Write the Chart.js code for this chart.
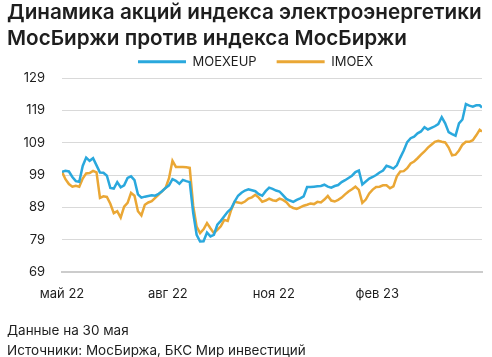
<!DOCTYPE html>
<html><head><meta charset="utf-8">
<script src="https://cdn.jsdelivr.net/npm/chart.js@4"></script>
<style>html,body{margin:0;padding:0;background:#fff}#wrap{width:492px;height:357px}</style>
</head><body><div id="wrap"><canvas id="c" width="492" height="357"></canvas></div>
<script>
// Days since 30 May 2022 (every third calendar day, last point = 30 May 2023)
const days = Array.from({length:122}, (_, i) => i * 3).concat([365]);

const moexeup = [
100,100.3,100.1,98.4,97.1,96.9,101.8,104.4,103.4,104.2,102,99.8,99.7,98.8,95,94.8,96.8,95.2,95.8,98.1,
98.6,97.4,93,92,92.3,92.5,92.7,92.6,93.2,94,95,95.8,97.7,97.2,96.3,97.5,97.1,96.8,87.3,80.5,
78.4,78.5,81.2,80,80.5,83.6,84.8,86.2,87.6,88.6,90.8,92.6,93.5,94.2,94.6,94.3,94,93.1,92.6,94,
95.1,94.7,94.2,93.9,92.8,91.6,91.1,90.7,91.3,91.8,92.4,95.3,95.3,95.4,95.5,95.6,96,95.4,95.1,95.6,
95.9,96.8,97.4,98.1,98.8,99.9,100.4,96.1,97,97.9,98.4,99,99.8,100.4,101.9,101.5,101,102,104.4,106.6,
109.2,110.4,110.9,111.9,112.5,113.8,113.1,113.6,114.1,114.8,116.9,115,112.3,111.7,111.2,115,116.2,121,120.5,120.2,
120.6,120.6,119.9
];

const imoex = [
100,97.7,96.2,95.4,95.7,95.4,97.9,99.5,99.6,100.3,99.8,91.9,92.4,92.2,90.1,87.2,87.8,85.8,89.2,90.4,
93.5,92.6,87.8,86.5,89.8,90.5,90.9,91.9,92.9,94,95,98,103.4,101.5,101.5,101.5,101.4,101.2,89.5,83,
81,82.2,84.1,82.5,81,82,83.1,85.1,84.8,88.2,90.7,90.5,90.3,90.8,91.7,92.1,92.9,92,90.7,91.1,
91.7,91.2,91,91.7,91.3,90.6,89.3,88.8,88.5,89,89.5,89.8,90.2,90,90.7,90.5,91.4,92.5,91.1,90.8,
91.3,92,93,93.9,94.6,95.4,94.4,90.4,91.4,93.3,94.5,95.3,95.4,95.8,95.8,94.9,95.5,98.6,100.1,100.2,
101.1,102.6,103.2,104.2,105.3,106.3,107.5,108.4,109.3,109.6,109.3,109.1,107.5,105.1,105.3,106.6,108.4,109.3,109.3,109.8,
111.3,113,112.5
];

const xTickDays = [0, 92, 184, 274];
const xTickLabels = ['май 22', 'авг 22', 'ноя 22', 'фев 23'];
const yTicks = [69, 79, 89, 99, 109, 119, 129];

const titleLines = ['Динамика акций индекса электроэнергетики', 'МосБиржи против индекса МосБиржи'];
const footerLines = ['Данные на 30 мая', 'Источники: МосБиржа, БКС Мир инвестиций'];

const BLUE = '#2aa8dd', ORANGE = '#eaa735', TXT = '#1e1e1e';
const FONT = 'Inter, "Noto Sans", sans-serif';

const legendShift = {
  id: 'legendShift',
  afterLayout(chart) { chart.legend.left += 11; chart.legend.right += 11; }
};

new Chart(document.getElementById('c'), {
  type: 'line',
  plugins: [legendShift],
  data: {
    datasets: [
      { label: 'MOEXEUP', data: days.map((d, i) => ({x: d, y: moexeup[i]})),
        borderColor: BLUE, backgroundColor: BLUE, borderWidth: 2.5, pointRadius: 0, tension: 0 },
      { label: 'IMOEX', data: days.map((d, i) => ({x: d, y: imoex[i]})),
        borderColor: ORANGE, backgroundColor: ORANGE, borderWidth: 2.5, pointRadius: 0, tension: 0 }
    ]
  },
  options: {
    responsive: false, animation: false, devicePixelRatio: 1,
    layout: { padding: { left: 7, right: 10, top: 0, bottom: 0 } },
    plugins: {
      title: { display: true, text: titleLines, align: 'start', color: TXT,
        font: { family: FONT, size: 20.7, weight: '600', lineHeight: 1.26 }, padding: { top: 0, bottom: -17 } },
      subtitle: { display: true, position: 'bottom', text: footerLines, align: 'start', color: TXT,
        font: { family: FONT, size: 13.5, weight: '400', lineHeight: 1.5 }, padding: { top: 5, bottom: -4 } },
      legend: { position: 'top',
        labels: { boxWidth: 48, boxHeight: 3, padding: 20, color: TXT,
          font: { family: FONT, size: 13 },
          generateLabels: (chart) => Chart.defaults.plugins.legend.labels.generateLabels(chart).map(l => ({...l, lineWidth: 0})) } },
      tooltip: { enabled: false }
    },
    scales: {
      x: { type: 'linear', min: 0, max: 365,
        afterBuildTicks: (a) => { a.ticks = xTickDays.map(v => ({value: v})); },
        ticks: { callback: (v) => xTickLabels[xTickDays.indexOf(v)], padding: 14, color: TXT,
          font: { family: FONT, size: 13 }, maxRotation: 0, autoSkip: false },
        grid: { display: false, drawTicks: false },
        border: { display: true, color: '#cccccc', width: 2 } },
      y: { min: 69, max: 129,
        afterBuildTicks: (a) => { a.ticks = yTicks.map(v => ({value: v})); },
        afterFit: (a) => { a.width = 55; },
        ticks: { padding: 17, color: TXT, font: { family: FONT, size: 13 } },
        grid: { color: '#d9d9d9', drawTicks: false, lineWidth: 1 },
        border: { display: false } }
    }
  }
});
</script></body></html>
